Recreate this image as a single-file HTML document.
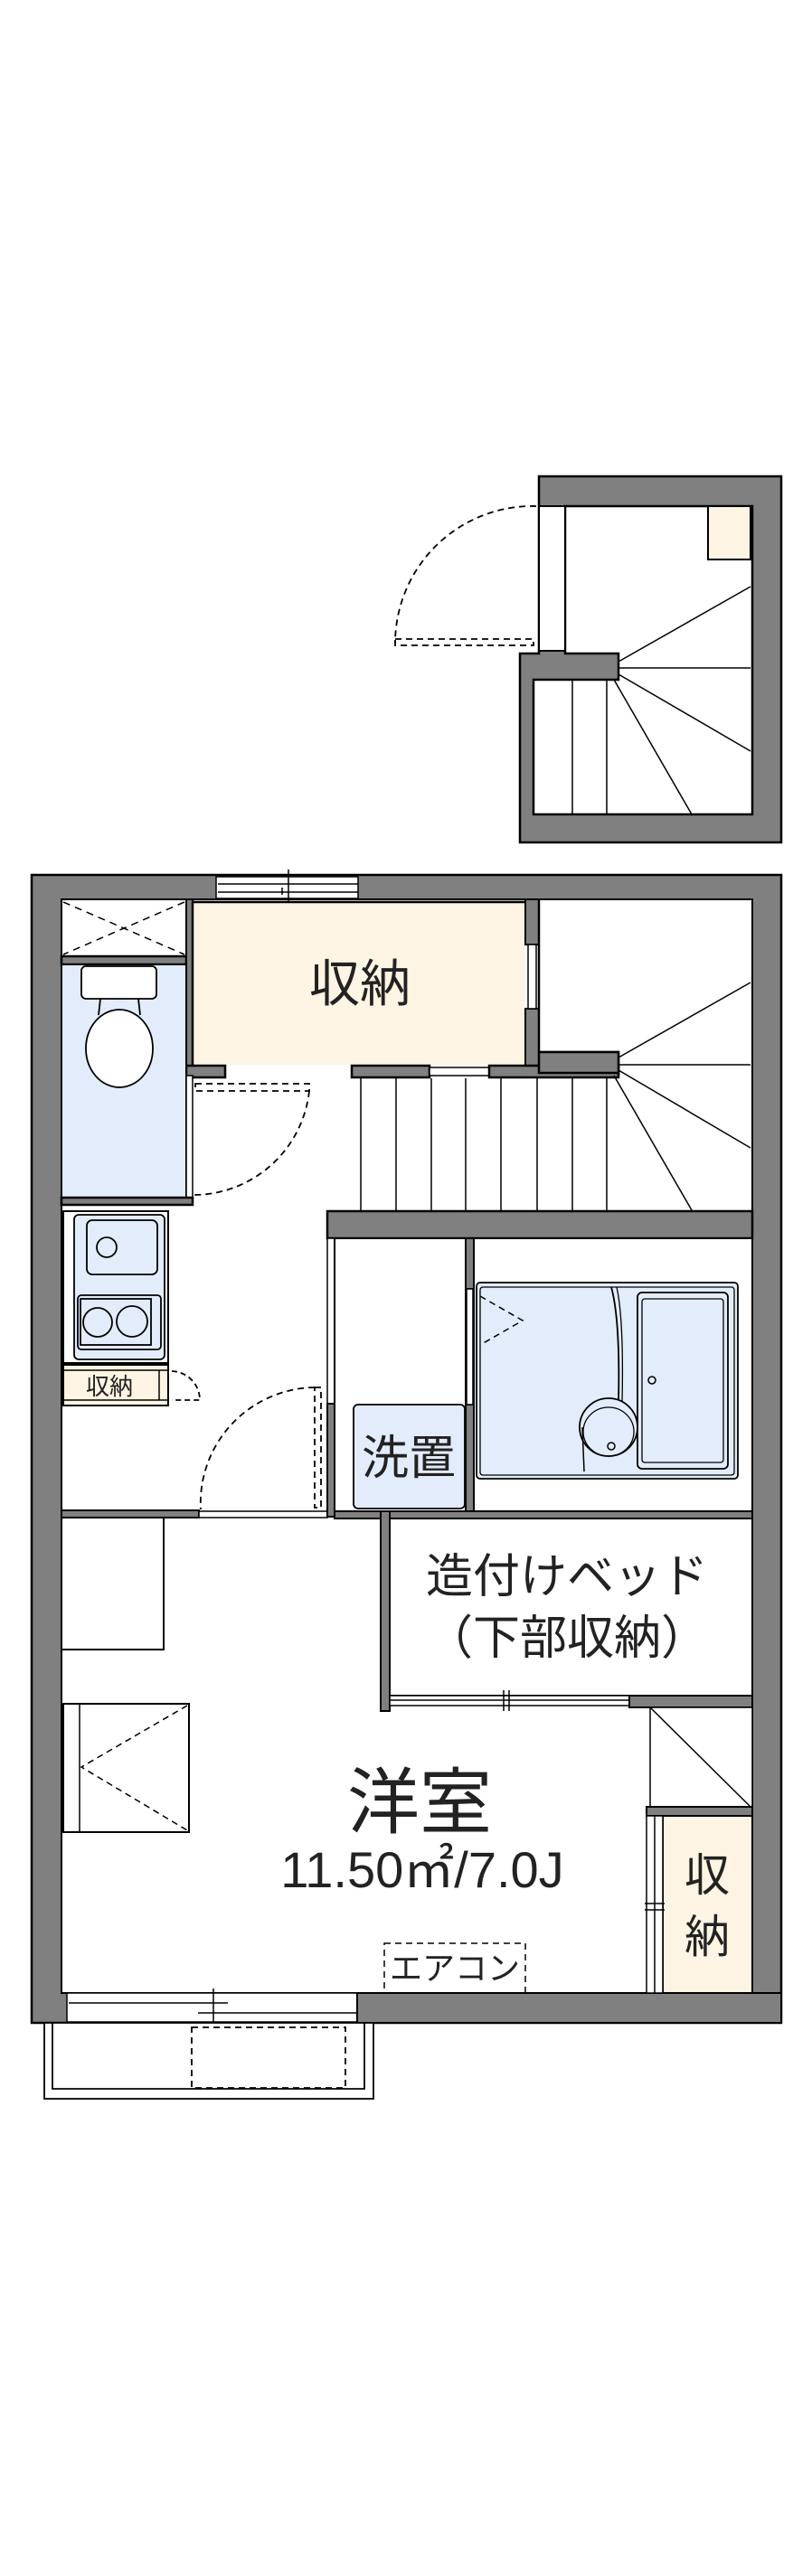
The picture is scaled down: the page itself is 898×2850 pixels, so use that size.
<!DOCTYPE html>
<html><head><meta charset="utf-8"><style>
html,body{margin:0;padding:0;background:#fff}
svg{display:block}
text{font-family:"Liberation Sans","Noto Sans CJK JP",sans-serif;fill:#222}
</style></head><body>
<svg width="898" height="2850" viewBox="0 0 898 2850" xmlns="http://www.w3.org/2000/svg">
<g stroke="#000" stroke-width="2.5" fill="none">
<!-- Upper stair box -->
<path d="M596,527 H864 V932 H575 V723 H596 Z" fill="#808080"/>
<path d="M625,560 H832 V901 H590 V752 H684 V723 H625 Z" fill="#fff"/>
<rect x="596" y="560" width="29" height="160" fill="#fff" stroke-width="2"/>
<rect x="783" y="560" width="47" height="59" fill="#fdf4e3" stroke-width="2"/>
<g stroke-width="1.5">
<line x1="684" y1="739" x2="830" y2="739"/>
<line x1="684" y1="732" x2="830" y2="649"/>
<line x1="684" y1="746" x2="830" y2="831"/>
<line x1="679" y1="752" x2="765" y2="901"/>
<line x1="633" y1="752" x2="633" y2="901"/>
<line x1="671" y1="752" x2="671" y2="901"/>
</g>
<g stroke-dasharray="7,5" stroke-width="1.8">
<path d="M593,560 A152,152 0 0 0 437,712"/>
<rect x="437" y="707" width="153" height="7"/>
</g>

<!-- Main outer walls -->
<rect x="35" y="968" width="829" height="1270" fill="#808080"/>
<rect x="68" y="995" width="764" height="1210" fill="#fff" stroke-width="2"/>
<!-- top window -->
<rect x="239" y="970" width="157" height="24" fill="#fff" stroke-width="1.5"/>
<line x1="241" y1="978" x2="396" y2="978" stroke-width="1.5"/>
<line x1="241" y1="987" x2="396" y2="987" stroke-width="1.5"/>
<line x1="319" y1="962" x2="319" y2="1000" stroke-width="1.5"/>
<line x1="312" y1="982" x2="312" y2="990" stroke-width="1.5"/>
<!-- bottom window -->
<rect x="74" y="2205" width="321" height="32" fill="#fff" stroke-width="1.5"/>
<line x1="76" y1="2216" x2="252" y2="2216" stroke-width="1.5"/>
<line x1="219" y1="2227" x2="395" y2="2227" stroke-width="1.5"/>
<line x1="236" y1="2200" x2="236" y2="2243" stroke-width="1.5"/>
<rect x="395" y="2205" width="469" height="33" fill="#808080" stroke-width="2"/>

<!-- closet X box -->
<rect x="68" y="995" width="138" height="63" fill="#fff" stroke-width="2"/>
<g stroke-dasharray="8,6" stroke-width="1.5"><line x1="70" y1="998" x2="204" y2="1056"/><line x1="204" y1="998" x2="70" y2="1056"/></g>
<rect x="68" y="1058" width="138" height="9" fill="#808080"/>

<!-- 収納 beige -->
<rect x="213" y="998" width="368" height="180" fill="#fdf4e3" stroke="none"/>
<rect x="206" y="995" width="7" height="195" fill="#808080" stroke-width="2"/>
<rect x="581" y="995" width="15" height="50" fill="#808080" stroke-width="2"/>
<rect x="581" y="1116" width="15" height="65" fill="#808080" stroke-width="2"/>
<rect x="584" y="1045" width="9" height="71" fill="#fff" stroke-width="1.5"/>
<line x1="213" y1="998" x2="581" y2="998"/>
<line x1="213" y1="998" x2="213" y2="1180"/>
<rect x="206" y="1179" width="43" height="13" fill="#808080"/>
<rect x="389" y="1179" width="86" height="13" fill="#808080"/>
<rect x="475" y="1181" width="66" height="9" fill="#fff" stroke-width="1.5"/>
<rect x="541" y="1179" width="143" height="13" fill="#808080"/>
<text x="398" y="1108" font-size="56" text-anchor="middle" stroke="none">収納</text>

<!-- stair area lower -->
<path d="M596,995 V1164 H684 V1190" stroke-width="2.5"/>
<rect x="596" y="1164" width="88" height="23" fill="#808080"/>
<g stroke-width="1.5">
<line x1="684" y1="1178" x2="830" y2="1178"/>
<line x1="684" y1="1170" x2="830" y2="1087"/>
<line x1="684" y1="1184" x2="830" y2="1270"/>
<line x1="679" y1="1190" x2="765" y2="1339"/>
<line x1="399" y1="1193" x2="399" y2="1339"/><line x1="438" y1="1193" x2="438" y2="1339"/>
<line x1="477" y1="1193" x2="477" y2="1339"/><line x1="515" y1="1193" x2="515" y2="1339"/>
<line x1="554" y1="1193" x2="554" y2="1339"/><line x1="594" y1="1193" x2="594" y2="1339"/>
<line x1="633" y1="1193" x2="633" y2="1339"/><line x1="671" y1="1193" x2="671" y2="1339"/>
</g>
<rect x="362" y="1340" width="470" height="30" fill="#808080"/>

<!-- toilet -->
<rect x="68" y="1067" width="138" height="258" fill="#e3ecfa" stroke-width="2"/>
<rect x="206" y="1190" width="7" height="135" fill="#fff" stroke-width="1.5"/>
<rect x="68" y="1325" width="145" height="8" fill="#808080"/>
<rect x="90" y="1069" width="83" height="36" rx="5" fill="#fff" stroke-width="1.8"/>
<ellipse cx="132" cy="1160" rx="37" ry="43" fill="#fff" stroke-width="1.8"/>
<path d="M109,1123 L111,1105 M155,1123 L153,1105" stroke-width="1.8"/>
<g stroke-dasharray="7,5" stroke-width="1.8">
<rect x="216" y="1199" width="126" height="8"/>
<path d="M342,1207 A129,129 0 0 1 213,1322"/>
</g>

<!-- kitchen -->
<rect x="70" y="1340" width="116" height="168" fill="#fff" stroke-width="2"/>
<rect x="82" y="1344" width="100" height="160" rx="5" fill="#e3ecfa" stroke-width="1.8"/>
<rect x="96" y="1350" width="78" height="60" rx="6" fill="#e3ecfa" stroke-width="1.8"/>
<circle cx="118" cy="1380" r="11" stroke-width="1.8"/>
<rect x="86" y="1433" width="92" height="60" rx="4" stroke-width="1.8"/>
<rect x="89" y="1437" width="78" height="51" stroke-width="1.8"/>
<circle cx="108" cy="1463" r="16" stroke-width="1.8"/>
<circle cx="146" cy="1462" r="17" stroke-width="1.8"/>
<rect x="70" y="1510" width="116" height="45" fill="#fdf4e3" stroke-width="2"/>
<line x1="70" y1="1516" x2="186" y2="1516" stroke-width="1.5"/>
<line x1="70" y1="1549" x2="186" y2="1549" stroke-width="1.5"/>
<line x1="176" y1="1516" x2="176" y2="1549" stroke-width="1.5"/>
<text x="121" y="1543" font-size="26" text-anchor="middle" stroke="none">収納</text>
<path d="M190,1517 A32,32 0 0 1 221,1549 H190" stroke-dasharray="6,4" stroke-width="1.8"/>

<!-- room divider -->
<rect x="68" y="1671" width="152" height="8" fill="#808080" stroke-width="2"/>
<rect x="220" y="1672" width="142" height="7" fill="#fff" stroke-width="1.5"/>
<g stroke-dasharray="7,5" stroke-width="1.8">
<rect x="348" y="1535" width="7" height="133"/>
<path d="M348,1535 A128,128 0 0 0 222,1670"/>
</g>
<!-- washroom -->
<rect x="362" y="1370" width="8" height="183" fill="#fff" stroke-width="1.5"/>
<rect x="362" y="1553" width="8" height="125" fill="#808080" stroke-width="2"/>
<rect x="370" y="1370" width="145" height="302" fill="#fff" stroke-width="2"/>
<rect x="391" y="1554" width="123" height="115" rx="5" fill="#e3ecfa" stroke-width="1.8"/>
<text x="452" y="1631" font-size="52" text-anchor="middle" stroke="none">洗置</text>
<rect x="515" y="1370" width="9" height="56" fill="#808080" stroke-width="2"/>
<rect x="515" y="1554" width="9" height="118" fill="#808080" stroke-width="2"/>
<rect x="516" y="1426" width="7" height="128" fill="#fff" stroke-width="1.5"/>
<!-- bath -->
<rect x="524" y="1370" width="308" height="302" fill="#fff" stroke-width="2"/>
<rect x="527" y="1419" width="289" height="217" rx="4" fill="#e3ecfa" stroke-width="1.8"/>
<rect x="531" y="1424" width="281" height="208" rx="3" stroke-width="1.3"/>
<rect x="705" y="1430" width="100" height="195" rx="5" stroke-width="1.8"/>
<rect x="710" y="1437" width="90" height="181" rx="3" stroke-width="1.3"/>
<circle cx="721" cy="1527" r="4" stroke-width="1.5"/>
<path d="M676,1424 Q686,1460 684,1551" stroke-width="1.8"/>
<path d="M682,1424 Q690,1460 688,1551" stroke-width="1.3"/>
<ellipse cx="673" cy="1579" rx="32" ry="32" fill="#e3ecfa" stroke-width="1.8"/>
<ellipse cx="673" cy="1584" rx="28" ry="27" stroke-width="1.3"/>
<circle cx="676" cy="1600" r="4" stroke-width="1.5"/>
<path d="M644,1579 L646,1628" stroke-width="1.5"/>
<path d="M531,1434 L578,1461 L531,1488" stroke-dasharray="7,5" stroke-width="1.5"/>
<rect x="370" y="1672" width="462" height="8" fill="#808080" stroke-width="2"/>
<!-- bed -->
<rect x="421" y="1672" width="10" height="221" fill="#808080" stroke-width="2"/>
<rect x="431" y="1680" width="401" height="196" fill="#fff" stroke-width="2"/>
<rect x="431" y="1876" width="265" height="11" fill="#fff" stroke-width="1.5"/>
<line x1="431" y1="1881" x2="696" y2="1881" stroke-width="1.5"/>
<line x1="557" y1="1870" x2="557" y2="1893" stroke-width="1.5"/>
<line x1="563" y1="1870" x2="563" y2="1893" stroke-width="1.5"/>
<rect x="696" y="1876" width="136" height="13" fill="#808080" stroke-width="2"/>
<text x="627" y="1762" font-size="52" text-anchor="middle" stroke="none">造付けベッド</text>
<text x="627" y="1830" font-size="52" text-anchor="middle" stroke="none">（下部収納）</text>
<!-- triangle box -->
<rect x="719" y="1889" width="113" height="110" fill="#fff" stroke-width="1.5"/>
<line x1="719" y1="1889" x2="830" y2="1999" stroke-width="1.5"/>
<rect x="715" y="1999" width="117" height="10" fill="#808080" stroke-width="2"/>
<!-- right 収納 -->
<rect x="733" y="2009" width="99" height="196" fill="#fdf4e3" stroke-width="2"/>
<rect x="715" y="2009" width="18" height="196" fill="#fff" stroke-width="1.5"/>
<line x1="724" y1="2009" x2="724" y2="2205" stroke-width="1.5"/>
<line x1="713" y1="2106" x2="735" y2="2106" stroke-width="1.5"/>
<line x1="713" y1="2113" x2="735" y2="2113" stroke-width="1.5"/>
<text x="782" y="2092" font-size="50" text-anchor="middle" stroke="none">収</text>
<text x="782" y="2160" font-size="50" text-anchor="middle" stroke="none">納</text>
<!-- left room fixtures -->
<rect x="68" y="1679" width="113" height="146" fill="#fff" stroke-width="2"/>
<rect x="70" y="1885" width="139" height="142" fill="#fff" stroke-width="2"/>
<line x1="88" y1="1885" x2="88" y2="2027" stroke-width="1.5"/>
<path d="M207,1887 L90,1955 L207,2025" stroke-dasharray="7,5" stroke-width="1.5"/>
<text x="464" y="2022" font-size="80" text-anchor="middle" stroke="none">洋室</text>
<text x="467" y="2088" font-size="56" text-anchor="middle" stroke="none">11.50㎡/7.0J</text>
<rect x="425" y="2150" width="156" height="55" stroke-dasharray="7,5" stroke-width="1.5"/>
<text x="503" y="2190" font-size="36" text-anchor="middle" stroke="none">エアコン</text>
<!-- balcony -->
<g stroke-width="1.8">
<rect x="49" y="2238" width="364" height="84" fill="#fff"/>
<path d="M58,2238 V2311 H403 V2238"/>
<rect x="212" y="2243" width="170" height="67" stroke-dasharray="7,5"/>
</g>
</g>
</svg>
</body></html>
